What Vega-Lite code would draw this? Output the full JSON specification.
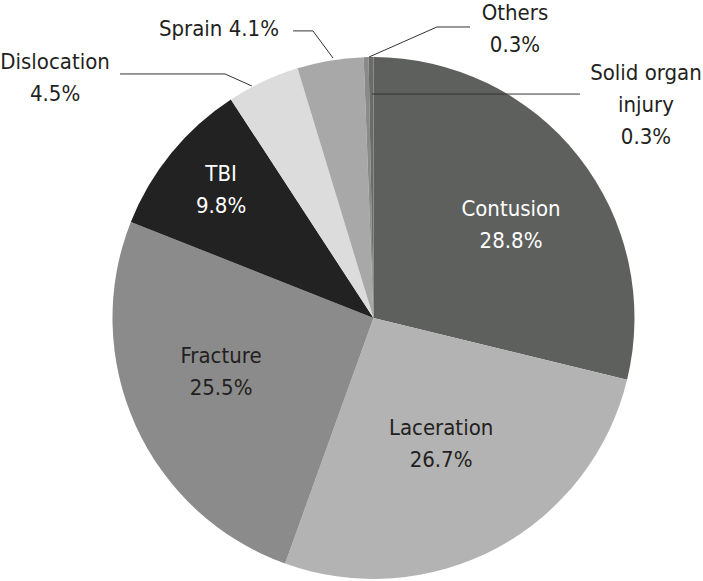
{
  "$schema": "https://vega.github.io/schema/vega-lite/v6.json",
  "width": 703,
  "height": 581,
  "padding": 0,
  "autosize": "none",
  "background": "white",
  "config": {"view": {"stroke": null}},
  "datasets": {
    "slices": [
      {"category": "Contusion", "percent": 28.8, "order": 1},
      {"category": "Laceration", "percent": 26.7, "order": 2},
      {"category": "Fracture", "percent": 25.5, "order": 3},
      {"category": "TBI", "percent": 9.8, "order": 4},
      {"category": "Dislocation", "percent": 4.5, "order": 5},
      {"category": "Sprain", "percent": 4.1, "order": 6},
      {"category": "Others", "percent": 0.3, "order": 7},
      {"category": "Solid organ injury", "percent": 0.3, "order": 8}
    ],
    "labels": [
      {"category": "Contusion", "text": "Contusion\n28.8%", "u": 52.7, "v": 41.8},
      {"category": "Laceration", "text": "Laceration\n26.7%", "u": 25.9, "v": -42.1},
      {"category": "Fracture", "text": "Fracture\n25.5%", "u": -58.4, "v": -14.4},
      {"category": "TBI", "text": "TBI\n9.8%", "u": -58.4, "v": 55.0},
      {"category": "Dislocation", "text": "Dislocation\n4.5%", "u": -122.0, "v": 98.0},
      {"category": "Sprain", "text": "Sprain 4.1%", "u": -59.2, "v": 110.7},
      {"category": "Others", "text": "Others\n0.3%", "u": 54.2, "v": 116.7},
      {"category": "Solid organ injury", "text": "Solid organ\ninjury\n0.3%", "u": 104.4, "v": 93.9}
    ],
    "leaders": [
      {"category": "Dislocation", "seq": 1, "u": -97.1, "v": 93.5},
      {"category": "Dislocation", "seq": 2, "u": -56.9, "v": 93.5},
      {"category": "Dislocation", "seq": 3, "u": -46.6, "v": 88.9},
      {"category": "Sprain", "seq": 1, "u": -30.8, "v": 110.0},
      {"category": "Sprain", "seq": 2, "u": -23.2, "v": 110.0},
      {"category": "Sprain", "seq": 3, "u": -15.5, "v": 99.6},
      {"category": "Others", "seq": 1, "u": -1.7, "v": 100.0},
      {"category": "Others", "seq": 2, "u": 24.3, "v": 111.5},
      {"category": "Others", "seq": 3, "u": 37.0, "v": 111.5},
      {"category": "Solid organ injury", "seq": 1, "u": -0.6, "v": 85.8},
      {"category": "Solid organ injury", "seq": 2, "u": 79.1, "v": 85.8}
    ]
  },
  "layer": [
    {
      "data": {"name": "slices"},
      "mark": {"type": "arc", "outerRadius": 261},
      "encoding": {
        "theta": {"field": "percent", "type": "quantitative", "stack": true},
        "order": {"field": "order", "type": "quantitative"},
        "color": {
          "field": "category",
          "type": "nominal",
          "legend": null,
          "scale": {
            "domain": ["Contusion", "Laceration", "Fracture", "TBI", "Dislocation", "Sprain", "Others", "Solid organ injury"],
            "range": ["#5e605e", "#b3b3b3", "#8b8b8b", "#212221", "#dcdcdc", "#a8a8a8", "#8a8a8a", "#6a6b6a"]
          }
        },
        "x": {"datum": 0, "type": "quantitative", "axis": null, "scale": {"domain": [-143.1, 126.25], "nice": false, "zero": false}},
        "y": {"datum": 0, "type": "quantitative", "axis": null, "scale": {"domain": [-100.77, 121.84], "nice": false, "zero": false}}
      }
    },
    {
      "data": {"name": "leaders"},
      "mark": {"type": "line", "stroke": "#333333", "strokeWidth": 1},
      "encoding": {
        "x": {"field": "u", "type": "quantitative", "axis": null, "scale": {"domain": [-143.1, 126.25], "nice": false, "zero": false}},
        "y": {"field": "v", "type": "quantitative", "axis": null, "scale": {"domain": [-100.77, 121.84], "nice": false, "zero": false}},
        "detail": {"field": "category", "type": "nominal"},
        "order": {"field": "seq", "type": "quantitative"}
      }
    },
    {
      "data": {"name": "labels"},
      "mark": {"type": "text", "font": "DejaVu Sans Condensed, Roboto, sans-serif", "fontSize": 22, "lineBreak": "\n", "lineHeight": 32, "align": "center", "baseline": "middle"},
      "encoding": {
        "x": {"field": "u", "type": "quantitative", "axis": null, "scale": {"domain": [-143.1, 126.25], "nice": false, "zero": false}},
        "y": {"field": "v", "type": "quantitative", "axis": null, "scale": {"domain": [-100.77, 121.84], "nice": false, "zero": false}},
        "text": {"field": "text", "type": "nominal"},
        "color": {
          "condition": {"test": "datum.category === 'Contusion' || datum.category === 'TBI'", "value": "#ffffff"},
          "value": "#231f20"
        }
      }
    }
  ]
}
